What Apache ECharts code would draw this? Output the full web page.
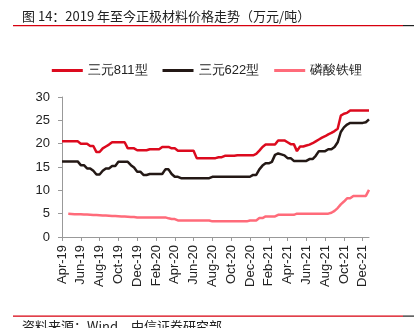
<!DOCTYPE html>
<html><head><meta charset="utf-8">
<script src="https://cdn.jsdelivr.net/npm/echarts@6/dist/echarts.min.js"></script>
<style>html,body{margin:0;padding:0;background:#fff}#c{width:414px;height:328px}</style>
</head><body><div id="c"></div>
<script>
// 3 points per month (1st, 11th, 21st), Apr-2019 .. Dec-2021
var months = ['2019-04','2019-05','2019-06','2019-07','2019-08','2019-09','2019-10','2019-11','2019-12',
  '2020-01','2020-02','2020-03','2020-04','2020-05','2020-06','2020-07','2020-08','2020-09','2020-10','2020-11','2020-12',
  '2021-01','2021-02','2021-03','2021-04','2021-05','2021-06','2021-07','2021-08','2021-09','2021-10','2021-11','2021-12'];
var days = ['01','11','21'];
var categories = [];
months.forEach(function(m){ days.forEach(function(d){ categories.push(m + '-' + d); }); });

var tickLabels = ['Apr-19','Jun-19','Aug-19','Oct-19','Dec-19','Feb-20','Apr-20','Jun-20','Aug-20','Oct-20','Dec-20','Feb-21','Apr-21','Jun-21','Aug-21','Oct-21','Dec-21'];

var ncm811 = [
 20.5,20.5,20.5,20.5,20.5,20.5, 20.0,20.0,20.0, 19.5,19.5, 18.2,18.2, 19.0, 19.4,19.8,
 20.3,20.3,20.3,20.3,20.3, 19.0,19.0,19.0, 18.6,18.6,18.6,18.6, 18.8,18.8,18.8,18.8,
 19.3,19.3,19.3, 19.0,19.0, 18.5,18.5,18.5,18.5,18.5,18.5,
 16.9,16.9,16.9,16.9,16.9,16.9,16.9, 17.1,17.1,
 17.4,17.4,17.4,17.4,17.5,17.5,17.5,17.5,17.5,17.5, 17.8, 18.5, 19.3,
 19.8,19.8,19.8,19.8, 20.7,20.7,20.7, 20.3, 19.9,19.9, 18.4, 19.4,19.4,
 19.6,19.8,20.1,20.5,20.9,21.3,21.6,22.0,22.3,22.7,23.2,
 26.0,26.4,26.6, 27.1,27.1,27.1,27.1,27.1,27.1,27.1
];
var ncm622 = [
 16.2,16.2,16.2,16.2,16.2,16.2, 15.4,15.4, 14.7,14.7, 14.2, 13.4,13.4, 14.2, 14.7,14.7,
 15.2,15.2, 16.1,16.1,16.1,16.1, 15.4, 14.9, 14.0,14.0, 13.3,13.3,
 13.5,13.5,13.5,13.5,13.5, 14.5,14.5, 13.5, 12.9,12.9,
 12.6,12.6,12.6,12.6,12.6,12.6,12.6,12.6,12.6,12.6,
 12.9,12.9,12.9,12.9,12.9,12.9,12.9,12.9,12.9,12.9,12.9,12.9,12.9,
 13.3,13.3, 14.5,15.3, 15.8,15.8, 16.1, 17.6,17.9,17.7,17.5, 16.9,16.9,
 16.3,16.3,16.3,16.3,16.3, 16.7,16.7, 17.4, 18.4,18.4,18.4, 18.8,18.8, 19.3, 20.3,
 22.5,23.5,24.1, 24.45,24.45,24.45,24.45,24.45, 24.6, 25.2
];
var lfp = [
 null,null, 5.0,4.95,4.9,4.9,4.85,4.8,4.8,4.75,4.7,4.7,4.65,4.6,4.6,4.55,4.5,4.5,4.45,4.4,4.4,4.35,4.3,4.3,
 4.2,4.2,4.2,4.2,4.2,4.2,4.2,4.2,4.2,4.2, 4.0, 3.85,3.85,
 3.55,3.55,3.55,3.55,3.55,3.55,3.55,3.55,3.55,3.55,3.55,
 3.35,3.35,3.35,3.35,3.35,3.35,3.35,3.35,3.35,3.35,3.35,3.35,
 3.55,3.55,3.55, 4.05,4.05, 4.4,4.4,4.4,4.4, 4.75,4.75,4.75,4.75,4.75,4.75,
 5.0,5.0,5.0,5.0,5.0,5.0,5.0,5.0,5.0,5.0,5.0, 5.2,5.6,6.2,7.0,7.6,
 8.3,8.3, 8.8,8.8,8.8,8.8,8.8, 10.1
];

var seriesNames = ['三元811型','三元622型','磷酸铁锂'];
var colors = ['#dc0a1e','#231815','#ff6b7a'];

var chart = echarts.init(document.getElementById('c'), null, {renderer:'canvas'});
var fontFam = '"Liberation Sans", Arial, sans-serif';
chart.setOption({
  animation:false,
  color: colors,
  textStyle:{fontFamily: fontFam},
  legend:{
    top: 59, left:'center',
    itemWidth:31, itemHeight:3, itemGap:15,
    icon:'rect',
    textStyle:{fontSize:13, color:'#222', fontFamily:fontFam},
    data: seriesNames
  },
  grid:{left:62, right:45, top:97, bottom:91, containLabel:false},
  xAxis:{
    type:'category', boundaryGap:false, data:categories,
    axisLine:{lineStyle:{color:'#999', width:1}},
    axisTick:{show:true, interval:5, length:4, lineStyle:{color:'#999'}},
    axisLabel:{interval:5, rotate:90, fontSize:13, color:'#222', margin:8,
      formatter:function(v, i){ return tickLabels[Math.round(i/6)] || ''; }},
    splitLine:{show:false}
  },
  yAxis:{
    type:'value', min:0, max:30, interval:5,
    axisLine:{show:true, lineStyle:{color:'#999'}},
    axisTick:{show:true, length:4, lineStyle:{color:'#999'}},
    axisLabel:{fontSize:13, color:'#222', margin:12},
    splitLine:{show:false}
  },
  series:[
    {name:seriesNames[0], type:'line', data:ncm811, showSymbol:false, lineStyle:{width:2.5, color:colors[0]}, itemStyle:{color:colors[0]}},
    {name:seriesNames[1], type:'line', data:ncm622, showSymbol:false, lineStyle:{width:2.5, color:colors[1]}, itemStyle:{color:colors[1]}},
    {name:seriesNames[2], type:'line', data:lfp, showSymbol:false, lineStyle:{width:2.5, color:colors[2]}, itemStyle:{color:colors[2]}}
  ],
  graphic:[
    {type:'text', left:22, top:10, style:{text:'图 14：2019 年至今正极材料价格走势（万元/吨）', fontSize:13, fill:'#222', fontFamily:'"Noto Sans CJK SC", sans-serif'}},
    {type:'rect', shape:{x:13, y:25, width:390, height:1.2}, style:{fill:'#d7000f'}},
    {type:'rect', shape:{x:403, y:25, width:11, height:1.2}, style:{fill:'#222'}},
    {type:'rect', shape:{x:13, y:315.5, width:390, height:1.2}, style:{fill:'#d7000f'}},
    {type:'rect', shape:{x:403, y:315.5, width:11, height:1.2}, style:{fill:'#222'}},
    {type:'text', left:22, top:320, style:{text:'资料来源：Wind，中信证券研究部', fontSize:13, fill:'#222', fontFamily:'"Noto Sans CJK SC", sans-serif'}}
  ]
});
</script></body></html>
